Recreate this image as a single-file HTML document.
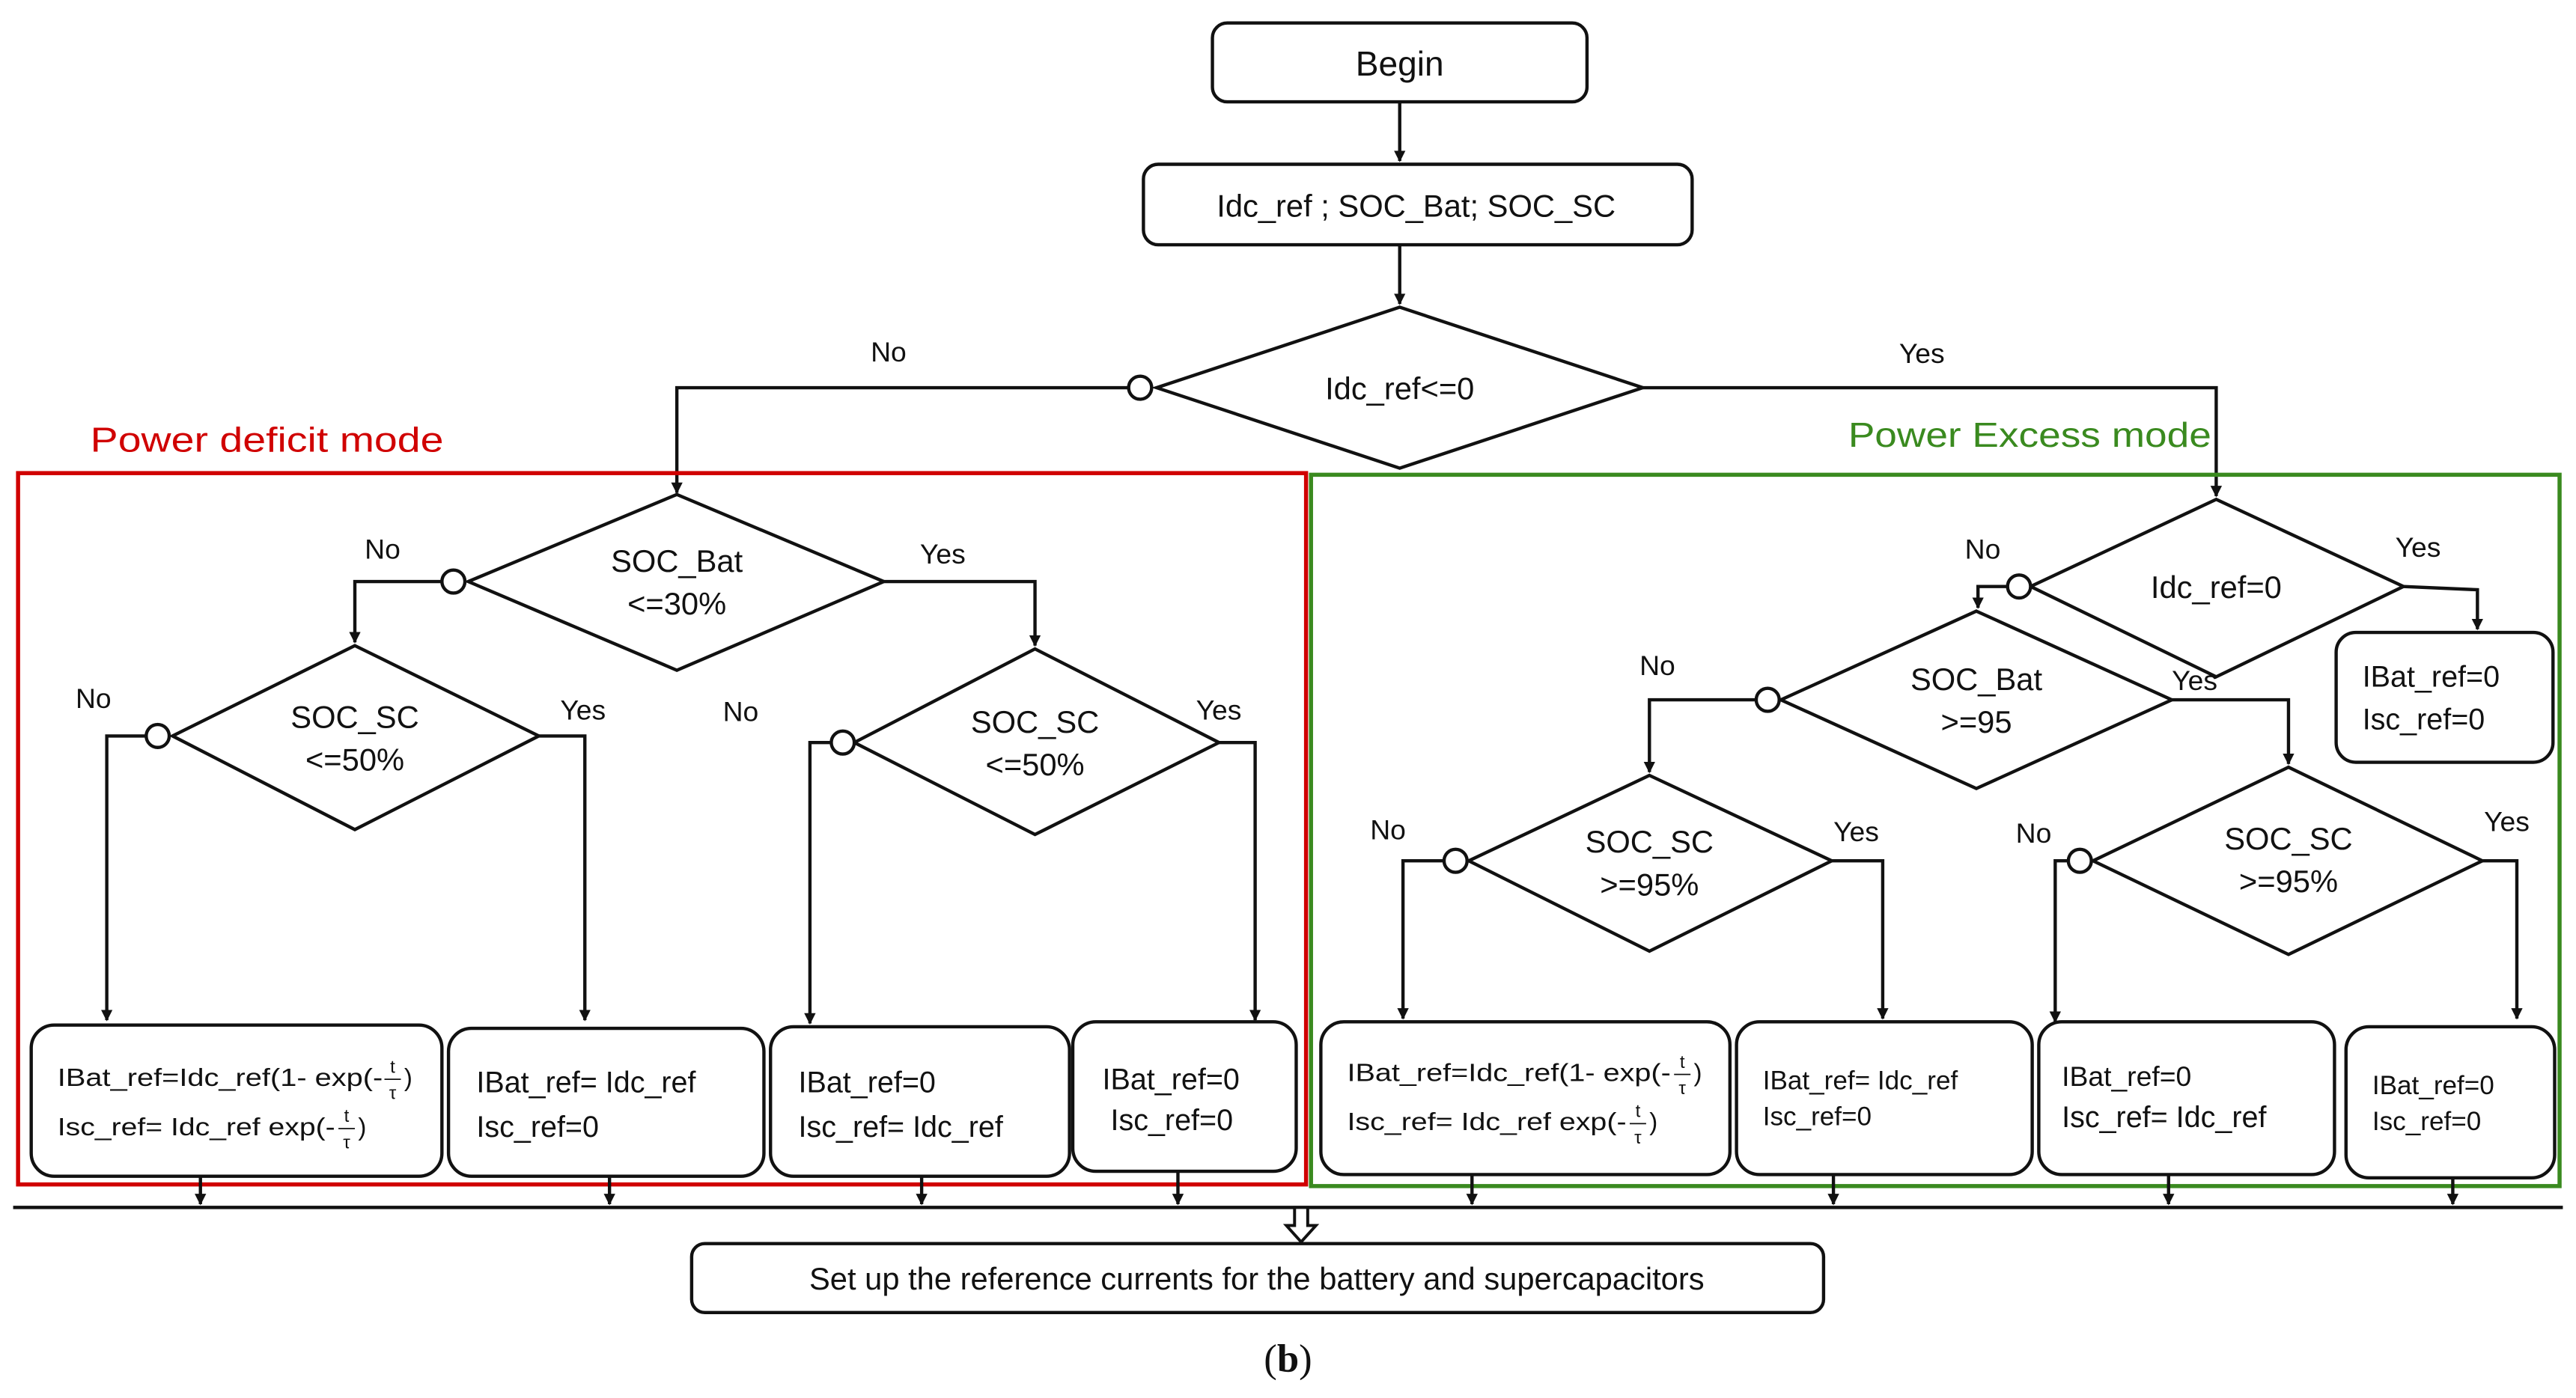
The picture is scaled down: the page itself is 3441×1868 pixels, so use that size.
<!DOCTYPE html>
<html><head><meta charset="utf-8"><style>
html,body{margin:0;padding:0;background:#fff;}
svg{display:block;}
text{font-family:"Liberation Sans",sans-serif;fill:#111;}
</style></head><body>
<svg width="3441" height="1868" viewBox="0 0 1568 851" preserveAspectRatio="none" xmlns="http://www.w3.org/2000/svg">
<defs>
<marker id="a" viewBox="0 0 10 10" refX="9" refY="5" markerWidth="7" markerHeight="7" markerUnits="userSpaceOnUse" orient="auto"><path d="M0,0 L10,5 L0,10 z" fill="#111"/></marker>
</defs>
<g fill="none" stroke="#111" stroke-width="2">
<rect x="738" y="14" width="228" height="48" rx="9"/>
<rect x="696" y="100" width="334" height="49" rx="9"/>
<polygon points="852,187 1000,236 852,285 704,236"/>
<circle cx="694" cy="236" r="7" fill="#fff"/>
<path d="M852,62 V98" marker-end="url(#a)"/>
<path d="M852,149 V185" marker-end="url(#a)"/>
<path d="M687,236 H412 V300" marker-end="url(#a)"/>
<path d="M1000,236 H1349 V302" marker-end="url(#a)"/>
</g>
<rect x="11" y="288" width="784" height="433" fill="none" stroke="#d00000" stroke-width="2.5"/>
<rect x="798" y="289" width="760" height="433" fill="none" stroke="#3a8a1f" stroke-width="2.5"/>
<g fill="none" stroke="#111" stroke-width="2">
<polygon points="412,301 538,354 412,408 285,354"/>
<circle cx="276" cy="354" r="7" fill="#fff"/>
<path d="M269,354 H216 V391" marker-end="url(#a)"/>
<path d="M538,354 H630 V393" marker-end="url(#a)"/>
<polygon points="216,393 328,448 216,505 105,448"/>
<circle cx="96" cy="448" r="7" fill="#fff"/>
<path d="M89,448 H65 V621" marker-end="url(#a)"/>
<path d="M328,448 H356 V621" marker-end="url(#a)"/>
<polygon points="630,395 742,452 630,508 520,452"/>
<circle cx="513" cy="452" r="7" fill="#fff"/>
<path d="M506,452 H493 V623" marker-end="url(#a)"/>
<path d="M742,452 H764 V621" marker-end="url(#a)"/>
<rect x="19" y="624" width="250" height="92" rx="14"/>
<rect x="273" y="626" width="192" height="90" rx="14"/>
<rect x="469" y="625" width="182" height="91" rx="14"/>
<rect x="653" y="622" width="136" height="91" rx="14"/>
<polygon points="1349,304 1463,357 1349,412 1236,357"/>
<circle cx="1229" cy="357" r="7" fill="#fff"/>
<path d="M1222,357 H1204 V370" marker-end="url(#a)"/>
<path d="M1463,357 L1508,359 V383" marker-end="url(#a)"/>
<rect x="1422" y="385" width="132" height="79" rx="12"/>
<polygon points="1203,372 1322,426 1203,480 1084,426"/>
<circle cx="1076" cy="426" r="7" fill="#fff"/>
<path d="M1069,426 H1004 V470" marker-end="url(#a)"/>
<path d="M1322,426 H1393 V465" marker-end="url(#a)"/>
<polygon points="1004,472 1115,524 1004,579 894,524"/>
<circle cx="886" cy="524" r="7" fill="#fff"/>
<path d="M879,524 H854 V620" marker-end="url(#a)"/>
<path d="M1115,524 H1146 V620" marker-end="url(#a)"/>
<polygon points="1393,467 1511,524 1393,581 1274,524"/>
<circle cx="1266" cy="524" r="7" fill="#fff"/>
<path d="M1259,524 H1251 V622" marker-end="url(#a)"/>
<path d="M1511,524 H1532 V620" marker-end="url(#a)"/>
<rect x="804" y="622" width="249" height="93" rx="14"/>
<rect x="1057" y="622" width="180" height="93" rx="14"/>
<rect x="1241" y="622" width="180" height="93" rx="14"/>
<rect x="1428" y="625" width="127" height="92" rx="14"/>
<path d="M8,735 H1560"/>
<path d="M122,716 V733" marker-end="url(#a)"/>
<path d="M371,716 V733" marker-end="url(#a)"/>
<path d="M561,716 V733" marker-end="url(#a)"/>
<path d="M717,713 V733" marker-end="url(#a)"/>
<path d="M896,715 V733" marker-end="url(#a)"/>
<path d="M1116,715 V733" marker-end="url(#a)"/>
<path d="M1320,715 V733" marker-end="url(#a)"/>
<path d="M1493,717 V733" marker-end="url(#a)"/>
<path d="M788,735 V746 H783 L792,756 L801,746 H796 V735 Z" fill="#fff" stroke-width="1.8"/>
<rect x="421" y="757" width="689" height="42" rx="8"/>
</g>
<g font-size="20" text-anchor="middle">
<text x="852" y="46" font-size="21">Begin</text>
<text x="862" y="132" font-size="19">Idc_ref ; SOC_Bat; SOC_SC</text>
<text x="852" y="243" font-size="19">Idc_ref&lt;=0</text>
<text x="412" y="348" font-size="19">SOC_Bat</text>
<text x="412" y="374" font-size="19">&lt;=30%</text>
<text x="216" y="443" font-size="19">SOC_SC</text>
<text x="216" y="469" font-size="19">&lt;=50%</text>
<text x="630" y="446" font-size="19">SOC_SC</text>
<text x="630" y="472" font-size="19">&lt;=50%</text>
<text x="1349" y="364" font-size="19">Idc_ref=0</text>
<text x="1203" y="420" font-size="19">SOC_Bat</text>
<text x="1203" y="446" font-size="19">&gt;=95</text>
<text x="1004" y="519" font-size="19">SOC_SC</text>
<text x="1004" y="545" font-size="19">&gt;=95%</text>
<text x="1393" y="517" font-size="19">SOC_SC</text>
<text x="1393" y="543" font-size="19">&gt;=95%</text>
<text x="765" y="785" font-size="19">Set up the reference currents for the battery and supercapacitors</text>
<text x="784" y="835" font-size="24" style="font-family:'Liberation Serif',serif">(<tspan font-weight="bold">b</tspan>)</text>
</g>
<g font-size="17">
<text x="530" y="220">No</text><text x="1156" y="221">Yes</text>
<text x="222" y="340">No</text><text x="560" y="343">Yes</text>
<text x="46" y="431">No</text><text x="341" y="438">Yes</text>
<text x="440" y="439">No</text><text x="728" y="438">Yes</text>
<text x="1196" y="340">No</text><text x="1458" y="339">Yes</text>
<text x="998" y="411">No</text><text x="1322" y="420">Yes</text>
<text x="834" y="511">No</text><text x="1116" y="512">Yes</text>
<text x="1227" y="513">No</text><text x="1512" y="506">Yes</text>
</g>
<text x="55" y="275" font-size="21" textLength="215" lengthAdjust="spacingAndGlyphs" style="fill:#d00000">Power deficit mode</text>
<text x="1125" y="272" font-size="21" textLength="221" lengthAdjust="spacingAndGlyphs" style="fill:#3a8a1f">Power Excess mode</text>
<g font-size="18">
<text x="290" y="665">IBat_ref= Idc_ref</text><text x="290" y="692">Isc_ref=0</text>
<text x="486" y="665">IBat_ref=0</text><text x="486" y="692">Isc_ref= Idc_ref</text>
<text x="671" y="663">IBat_ref=0</text><text x="676" y="688">Isc_ref=0</text>
<text x="1438" y="418">IBat_ref=0</text><text x="1438" y="444">Isc_ref=0</text>
<text x="1255" y="661" font-size="17">IBat_ref=0</text><text x="1255" y="686">Isc_ref= Idc_ref</text>
<text x="1444" y="666" font-size="16">IBat_ref=0</text><text x="1444" y="688" font-size="16">Isc_ref=0</text>
<text x="1073" y="663" font-size="16">IBat_ref= Idc_ref</text><text x="1073" y="685" font-size="16">Isc_ref=0</text>
</g>
<g font-size="15">
<text x="35" y="661" textLength="198" lengthAdjust="spacingAndGlyphs">IBat_ref=Idc_ref(1- exp(-</text>
<text x="239" y="653" font-size="11" text-anchor="middle">t</text>
<line x1="234" y1="657" x2="244" y2="657" stroke="#111" stroke-width="0.8"/>
<text x="239" y="669" font-size="11" text-anchor="middle">τ</text>
<text x="246" y="661">)</text>
<text x="35" y="691" textLength="169" lengthAdjust="spacingAndGlyphs">Isc_ref= Idc_ref exp(-</text>
<text x="211" y="683" font-size="11" text-anchor="middle">t</text>
<line x1="206" y1="687" x2="216" y2="687" stroke="#111" stroke-width="0.8"/>
<text x="211" y="699" font-size="11" text-anchor="middle">τ</text>
<text x="218" y="691">)</text>
<text x="820" y="658" textLength="197" lengthAdjust="spacingAndGlyphs">IBat_ref=Idc_ref(1- exp(-</text>
<text x="1024" y="650" font-size="11" text-anchor="middle">t</text>
<line x1="1019" y1="654" x2="1029" y2="654" stroke="#111" stroke-width="0.8"/>
<text x="1024" y="666" font-size="11" text-anchor="middle">τ</text>
<text x="1031" y="658">)</text>
<text x="820" y="688" textLength="170" lengthAdjust="spacingAndGlyphs">Isc_ref= Idc_ref exp(-</text>
<text x="997" y="680" font-size="11" text-anchor="middle">t</text>
<line x1="992" y1="684" x2="1002" y2="684" stroke="#111" stroke-width="0.8"/>
<text x="997" y="696" font-size="11" text-anchor="middle">τ</text>
<text x="1004" y="688">)</text>
</g>
</svg>
</body></html>
